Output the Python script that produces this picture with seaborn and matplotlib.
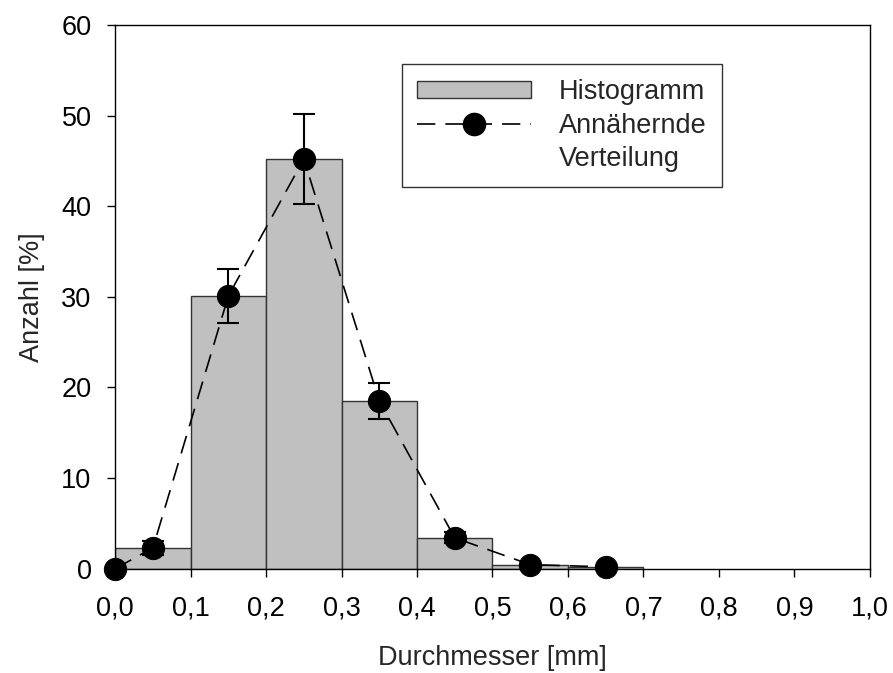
import numpy as np
import matplotlib.pyplot as plt
import seaborn as sns
from matplotlib.lines import Line2D
from matplotlib.patches import Patch

# Histogram data (bin edges in mm, share in %)
bin_edges = [0.0, 0.1, 0.2, 0.3, 0.4, 0.5, 0.6, 0.7]
bin_centers = [0.05, 0.15, 0.25, 0.35, 0.45, 0.55, 0.65]
hist_share = [2.3, 30.1, 45.2, 18.5, 3.4, 0.4, 0.15]

# Approximate distribution points
dist_x = [0.0, 0.05, 0.15, 0.25, 0.35, 0.45, 0.55, 0.65]
dist_y = [0.0, 2.3, 30.1, 45.2, 18.5, 3.4, 0.45, 0.2]
dist_err = [0.0, 0.8, 3.0, 5.0, 2.0, 0.6, 0.0, 0.0]

x_ticks = [0.0, 0.1, 0.2, 0.3, 0.4, 0.5, 0.6, 0.7, 0.8, 0.9, 1.0]
y_ticks = [0, 10, 20, 30, 40, 50, 60]

sns.set_style('ticks')
plt.rcParams['font.family'] = ['Liberation Sans', 'DejaVu Sans']
fs = 19.5

fig = plt.figure(figsize=(8.93, 6.73), dpi=100)
ax = fig.add_axes([0.129, 0.155, 0.845, 0.808])

sns.histplot(x=bin_centers, weights=hist_share, bins=bin_edges, stat='count',
             color='#c0c0c0', edgecolor='#333333', linewidth=1.0, alpha=1.0, ax=ax)

ax.errorbar(dist_x, dist_y, yerr=dist_err, fmt='none', ecolor='black',
            elinewidth=1.5, capsize=8, capthick=1.5, zorder=3)
sns.lineplot(x=dist_x, y=dist_y, color='black', linewidth=1.2, ax=ax,
             marker='o', markersize=16, markeredgecolor='black',
             markerfacecolor='black', dashes=False, zorder=4)
ax.lines[-1].set_dashes([11, 6])
ax.lines[-1].set_clip_on(False)

ax.set_xlim(0, 1.0)
ax.set_ylim(0, 60)
ax.set_xticks(x_ticks)
ax.set_xticklabels([f'{t:.1f}'.replace('.', ',') for t in x_ticks])
ax.set_yticks(y_ticks)
ax.tick_params(direction='out', length=6, width=1, labelsize=fs, colors='black')
ax.tick_params(axis='x', pad=13)
ax.tick_params(axis='y', pad=11)
for s in ax.spines.values():
    s.set_visible(True)
    s.set_linewidth(1.0)
    s.set_color('black')

ax.set_xlabel('Durchmesser [mm]', fontsize=fs, labelpad=17)
ax.set_ylabel('Anzahl [%]', fontsize=fs, labelpad=12)

handles = [
    Patch(facecolor='#c0c0c0', edgecolor='#333333', label='Histogramm'),
    Line2D([0], [0], color='black', linewidth=1.2, dashes=[11, 6], marker='o',
           markersize=16, label='Annähernde'),
    Line2D([], [], linestyle='none', label='Verteilung'),
]
leg = ax.legend(handles=handles, loc='upper left', bbox_to_anchor=(0.38, 0.928),
                fontsize=fs, frameon=True, fancybox=False, edgecolor='black',
                handlelength=4.2, handleheight=0.55, borderpad=0.55, labelspacing=0.28,
                handletextpad=1.05, borderaxespad=0)
leg.get_frame().set_linewidth(1.0)

fig.savefig('out.png', dpi=100)
